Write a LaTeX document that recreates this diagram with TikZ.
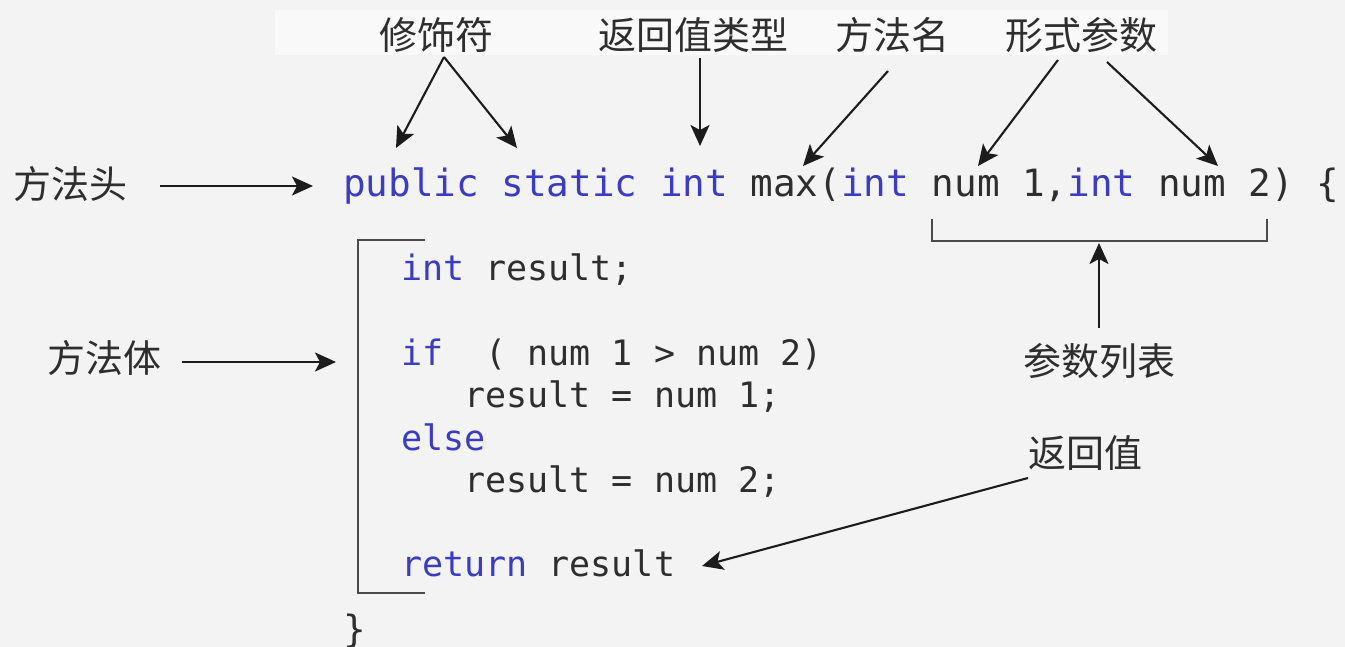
\documentclass[tikz,border=0pt]{standalone}
\usepackage{fontspec}
\setmainfont{DejaVu Sans}
\newfontfamily\cjk{Noto Sans CJK SC}
\newfontfamily\code{DejaVu Sans Mono}[WordSpace={1,0,0}]
\usetikzlibrary{arrows.meta}
\definecolor{bg}{HTML}{F3F3F3}
\definecolor{band}{HTML}{F9F9FA}
\definecolor{kw}{HTML}{3B3BC4}
\definecolor{ink}{HTML}{2E2E2E}
\definecolor{arrowc}{HTML}{1C1C1C}
\definecolor{bracket}{HTML}{4A4A4A}
\newcommand\kw[1]{\textcolor{kw}{#1}}

\begin{document}
\begin{tikzpicture}[x=1pt,y=-1pt,
  lbl/.style={font=\cjk\fontsize{38}{38}\selectfont, text=ink, inner sep=0pt, anchor=base},
  sigline/.style={font=\code\fontsize{37.6}{40}\selectfont, text=ink, inner sep=0pt, anchor=base west},
  codeline/.style={font=\code\fontsize{35}{40}\selectfont, text=ink, inner sep=0pt, anchor=base west},
  arr/.style={draw=arrowc, line width=2.1pt, -{Stealth[length=21pt,width=19pt,inset=5pt]}},
  bracketline/.style={draw=bracket, line width=2.8pt}
]
% canvas
\fill[bg] (0,0) rectangle (1345,647);
\useasboundingbox (0,0) rectangle (1345,647);
\fill[band] (275,10) rectangle (1168,55);

% labels
\node[lbl] (mod)     at (436,50)  {修饰符};
\node[lbl] (rtype)   at (693,50)  {返回值类型};
\node[lbl] (mname)   at (892,50)  {方法名};
\node[lbl] (fparam)  at (1081,50) {形式参数};
\node[lbl] (head)    at (70,199)  {方法头};
\node[lbl] (bodylbl) at (104,372) {方法体};
\node[lbl] (plist)   at (1099,375) {参数列表};
\node[lbl] (rval)    at (1085,467) {返回值};

% code
\node[sigline]  (sig)  at (343,197)   {\kw{public} \kw{static} \kw{int} max(\kw{int} num 1,\kw{int} num 2) \{};
\node[codeline] (decl) at (401,280)   {\kw{int} result;};
\node[codeline] (cond) at (401,365)   {\kw{if}\ \ ( num 1 > num 2)};
\node[codeline] (then) at (464.3,407) {result = num 1;};
\node[codeline] (els)  at (401,450)   {\kw{else}};
\node[codeline] (alt)  at (464.3,492) {result = num 2;};
\node[codeline] (ret)  at (401,576)   {\kw{return} result};
\node[sigline]  (close) at (343,642)  {\}};

% brackets
\draw[bracketline] (425,240) -- (358,240) -- (358,593) -- (425,593);
\draw[bracketline] (932,219) -- (932,241) -- (1267,241) -- (1267,219);

% arrow end points
\coordinate (modS)   at (444,57);
\coordinate (pubT)   at (396,148);
\coordinate (statT)  at (517,148);
\coordinate (rtypeS) at (700,58);
\coordinate (intT)   at (700,146);
\coordinate (mnameS) at (888,71);
\coordinate (maxT)   at (803,166);
\coordinate (fpS1)   at (1058,60);
\coordinate (fpS2)   at (1107,62);
\coordinate (num1T)  at (978,166);
\coordinate (num2T)  at (1218,166);
\coordinate (headS)  at (160,186);
\coordinate (headT)  at (313,186);
\coordinate (bodyS)  at (182,362);
\coordinate (bodyT)  at (336,362);
\coordinate (plistS) at (1099,328);
\coordinate (plistT) at (1099,243);
\coordinate (rvalS)  at (1028,478);
\coordinate (rvalT)  at (702,566);

% arrows
\draw[arr] (modS) -- (pubT);
\draw[arr] (modS) -- (statT);
\draw[arr] (rtypeS) -- (intT);
\draw[arr] (mnameS) -- (maxT);
\draw[arr] (fpS1) -- (num1T);
\draw[arr] (fpS2) -- (num2T);
\draw[arr] (headS) -- (headT);
\draw[arr] (bodyS) -- (bodyT);
\draw[arr] (plistS) -- (plistT);
\draw[arr] (rvalS) -- (rvalT);
\end{tikzpicture}
\end{document}
